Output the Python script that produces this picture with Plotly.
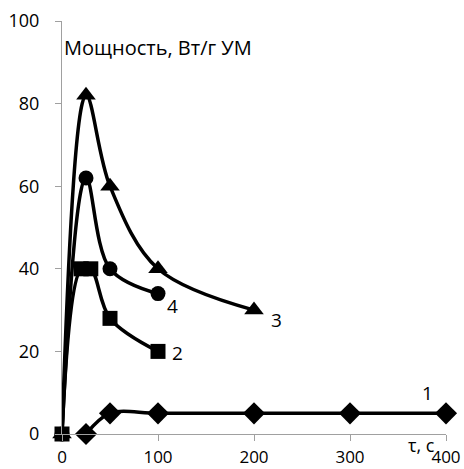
import plotly.graph_objects as go

# Data
s1_x = [25, 50, 100, 200, 300, 400]
s1_y = [0, 5, 5, 5, 5, 5]
s2_x = [0, 20, 30, 50, 100]
s2_y = [0, 40, 40, 28, 20]
s3_x = [0, 25, 50, 100, 200]
s3_y = [0, 82, 60, 40, 30]
s4_x = [0, 25, 50, 100]
s4_y = [0, 62, 40, 34]

series = [
    (s1_x, s1_y, "diamond", 17, 1.0),
    (s2_x, s2_y, "square", 15, 1.0),
    (s3_x, s3_y, "triangle-up", 17, 1.0),
    (s4_x, s4_y, "circle", 15, 1.0),
]
labels = [("1", 381, 10), ("2", 120, 19.5), ("3", 223, 27.5), ("4", 115, 31)]

x_ticks = [0, 100, 200, 300, 400]
y_ticks = [0, 20, 40, 60, 80, 100]

fig = go.Figure()
for x, y, sym, sz, sm in series:
    fig.add_trace(go.Scatter(
        x=x, y=y, mode="lines+markers",
        line=dict(color="black", width=3.5, shape="spline", smoothing=sm),
        marker=dict(symbol=sym, size=sz, color="black"),
        cliponaxis=False, showlegend=False,
    ))

font = "Open Sans"
for t, lx, ly in labels:
    fig.add_annotation(x=lx, y=ly, text=t, showarrow=False,
                       font=dict(family=font, size=19, color="black"))

fig.add_annotation(xref="paper", yref="paper", x=0, y=1, xanchor="left", yanchor="top",
                   xshift=0, yshift=-11, text="Мощность, Вт/г УМ", showarrow=False,
                   font=dict(family=font, size=20, color="black"))
fig.add_annotation(xref="x", yref="paper", x=374, y=0, xanchor="center", yanchor="top",
                   yshift=3, text="τ, с", showarrow=False,
                   font=dict(family=font, size=18, color="black"))

axis_common = dict(showgrid=False, zeroline=False, showline=True, linecolor="#a0a0a0",
                   linewidth=1, ticks="outside", tickcolor="#a0a0a0", ticklen=6,
                   automargin=False)
fig.update_xaxes(range=[0, 400], tickvals=x_ticks, ticklabelstandoff=2,
                 tickfont=dict(family=font, size=17, color="black"), **axis_common)
fig.update_yaxes(range=[0, 100], tickvals=y_ticks, ticklabelstandoff=12,
                 tickfont=dict(family=font, size=18, color="black"), **axis_common)

fig.update_layout(width=464, height=469, margin=dict(l=62, r=18, t=21, b=35),
                  plot_bgcolor="white", paper_bgcolor="white")
fig.write_html("out.html")
